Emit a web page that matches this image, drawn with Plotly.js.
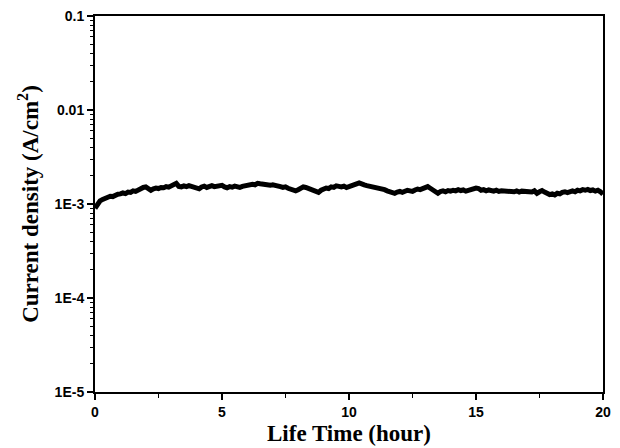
<!DOCTYPE html>
<html>
<head>
<meta charset="utf-8">
<script src="https://cdn.plot.ly/plotly-3.0.1.min.js"></script>
<style>html,body{margin:0;padding:0;background:#fff;}#chart{width:620px;height:448px;}</style>
</head>
<body>
<div id="chart"></div>
<script>
// Time step of 0.1 hour, from 0 to 20 hours
var timeStart = 0;
var timeStep = 0.1;
// Current density in mA/cm^2 (i.e. x 1E-3 A/cm^2)
var current_mA = [
  0.90, 1.02, 1.08, 1.12, 1.15, 1.19, 1.21, 1.20, 1.25, 1.27, 1.28,
  1.31, 1.29, 1.34, 1.33, 1.38, 1.36, 1.42, 1.47, 1.50, 1.52,
  1.47, 1.40, 1.45, 1.48, 1.46, 1.50, 1.49, 1.53, 1.51, 1.55,
  1.62, 1.66, 1.54, 1.52, 1.56, 1.53, 1.57, 1.55, 1.50, 1.47,
  1.45, 1.52, 1.55, 1.50, 1.54, 1.57, 1.53, 1.56, 1.55, 1.58,
  1.52, 1.49, 1.53, 1.51, 1.55, 1.52, 1.50, 1.54, 1.57, 1.55,
  1.59, 1.62, 1.60, 1.66, 1.64, 1.62, 1.63, 1.60, 1.58, 1.60,
  1.56, 1.57, 1.53, 1.50, 1.52, 1.47, 1.44, 1.40, 1.38, 1.42,
  1.48, 1.52, 1.50, 1.46, 1.44, 1.40, 1.36, 1.33, 1.40, 1.45,
  1.48, 1.46, 1.52, 1.50, 1.56, 1.54, 1.52, 1.55, 1.50, 1.53,
  1.55, 1.60, 1.64, 1.68, 1.62, 1.60, 1.57, 1.55, 1.52, 1.50,
  1.48, 1.45, 1.47, 1.42, 1.38, 1.35, 1.33, 1.30, 1.34, 1.36,
  1.33, 1.37, 1.40, 1.38, 1.36, 1.41, 1.44, 1.42, 1.47, 1.50,
  1.53, 1.47, 1.40, 1.33, 1.30, 1.36, 1.38, 1.35, 1.39, 1.37,
  1.40, 1.38, 1.42, 1.39, 1.41, 1.37, 1.40, 1.43, 1.42, 1.48,
  1.46, 1.40, 1.42, 1.38, 1.41, 1.39, 1.37, 1.40, 1.36, 1.38,
  1.37, 1.40, 1.36, 1.38, 1.35, 1.38, 1.34, 1.37, 1.36, 1.33,
  1.36, 1.34, 1.38, 1.30, 1.35, 1.39, 1.34, 1.30, 1.26, 1.28,
  1.25, 1.30, 1.28, 1.33, 1.35, 1.32, 1.36, 1.38, 1.35, 1.40,
  1.38, 1.42, 1.40, 1.43, 1.39, 1.41, 1.37, 1.40, 1.35, 1.27
];
var yTickVals = [1e-5, 1e-4, 1e-3, 1e-2, 1e-1];
var yTickText = ["1E-5", "1E-4", "1E-3", "0.01", "0.1"];
var xTickVals = [0, 5, 10, 15, 20];
var xTickText = ["0", "5", "10", "15", "20"];

var timeHours = current_mA.map(function (v, i) { return +(timeStart + i * timeStep).toFixed(2); });
var currentA = current_mA.map(function (v) { return v / 1000; });

var yMinor = [];
for (var e = -5; e < -1; e++) {
  for (var m = 2; m <= 9; m++) yMinor.push(m * Math.pow(10, e));
}

var tickFont = {family: '"Liberation Sans", Arial, sans-serif', size: 14, color: '#000', weight: 'bold'};
var titleFont = {family: '"Liberation Serif", "Times New Roman", serif', size: 23, color: '#000', weight: 'bold'};

var trace = {
  x: timeHours,
  y: currentA,
  type: 'scatter',
  mode: 'lines',
  line: {color: '#000', width: 5},
  hoverinfo: 'skip'
};

var layout = {
  width: 620,
  height: 448,
  margin: {l: 95, r: 17, t: 16, b: 56},
  paper_bgcolor: '#fff',
  plot_bgcolor: '#fff',
  showlegend: false,
  xaxis: {
    range: [0, 20],
    tickmode: 'array',
    tickvals: xTickVals,
    ticktext: xTickText,
    ticks: 'outside',
    ticklen: 6,
    tickwidth: 1.5,
    tickcolor: '#000',
    minor: {tickmode: 'linear', tick0: 0, dtick: 2.5, ticks: 'outside', ticklen: 4, tickwidth: 1.5, tickcolor: '#000', showgrid: false},
    showline: true,
    linecolor: '#000',
    linewidth: 2,
    mirror: true,
    showgrid: false,
    zeroline: false,
    tickfont: tickFont,
    title: {text: 'Life Time (hour)', font: titleFont, standoff: 6}
  },
  yaxis: {
    type: 'log',
    range: [-5, -1],
    tickmode: 'array',
    tickvals: yTickVals,
    ticktext: yTickText,
    ticks: 'outside',
    ticklen: 6,
    tickwidth: 1.5,
    tickcolor: '#000',
    minor: {tickmode: 'array', tickvals: yMinor, ticks: 'outside', ticklen: 3, tickwidth: 1, tickcolor: '#000', showgrid: false},
    showline: true,
    linecolor: '#000',
    linewidth: 2,
    mirror: true,
    showgrid: false,
    zeroline: false,
    tickfont: tickFont,
    title: {text: 'Current density (A/cm<sup>2</sup>)', font: titleFont, standoff: 10}
  }
};

Plotly.newPlot('chart', [trace], layout, {displayModeBar: false, staticPlot: true});
</script>
</body>
</html>
